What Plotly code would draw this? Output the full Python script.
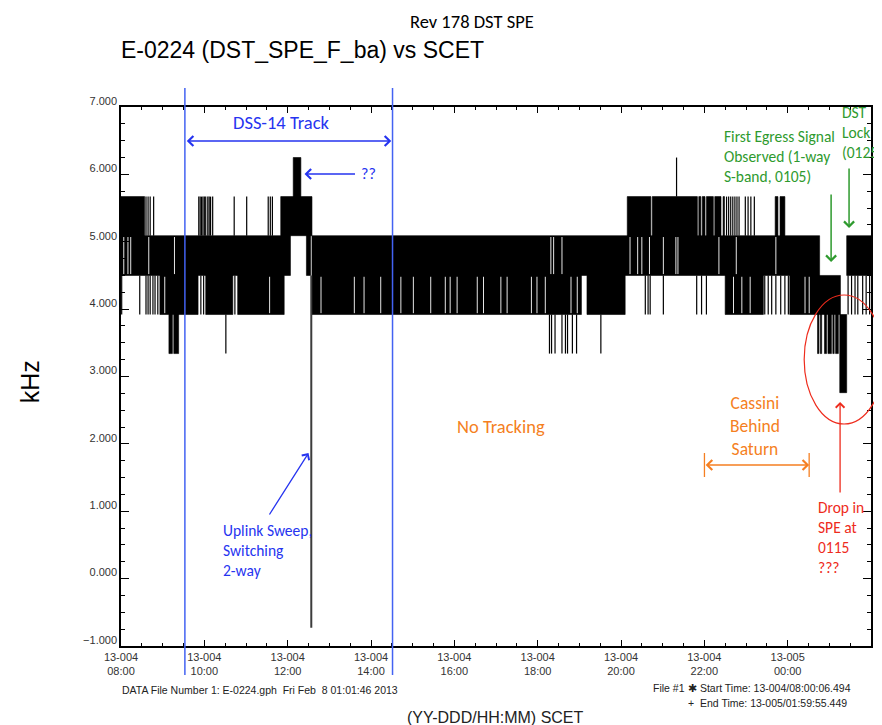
import plotly.graph_objects as go

# ---------------- data ----------------
# times as "DDD/HH:MM" (day-of-year 2013 / SCET)
block_start = ["004/08:00", "004/11:50", "004/12:08", "004/20:09", "004/20:45", "004/21:52", "004/21:57",
               "004/22:03", "004/22:15", "004/22:27", "004/23:42", "004/23:49",
               "004/08:00", "004/12:27", "004/12:35", "005/01:25",
               "004/08:56", "004/10:02", "004/10:48", "004/12:35", "004/19:11", "004/22:30", "005/00:03",
               "004/09:09", "004/09:16", "005/00:43", "005/00:47", "005/00:53", "005/00:58", "005/01:05",
               "005/01:09", "005/01:15"]
block_end = ["004/08:34", "004/12:35", "004/12:19", "004/20:43", "004/21:50", "004/21:55", "004/22:01",
             "004/22:13", "004/22:24", "004/22:29", "004/23:46", "004/23:56",
             "004/12:04", "004/12:33", "005/00:46", "005/02:00",
             "004/09:51", "004/10:41", "004/11:55", "004/19:03", "004/20:06", "004/23:25", "005/01:16",
             "004/09:14", "004/09:23", "005/00:45", "005/00:49", "005/00:56", "005/01:03", "005/01:07",
             "005/01:13", "005/01:25"]
block_low = [5.09, 5.09, 5.67, 5.09, 5.09, 5.09, 5.09, 5.09, 5.09, 5.09, 5.09, 5.09,
             4.50, 4.50, 4.50, 4.50,
             3.92, 3.92, 3.92, 3.92, 3.92, 3.92, 3.92,
             3.34, 3.34, 3.34, 3.34, 3.34, 3.34, 3.34, 3.34, 2.76]
block_high = [5.67, 5.67, 6.25, 5.67, 5.67, 5.67, 5.67, 5.67, 5.67, 5.67, 5.67, 5.67,
              5.09, 5.09, 5.09, 5.09,
              4.50, 4.50, 4.50, 4.50, 4.50, 4.50, 4.50,
              3.92, 3.92, 3.92, 3.92, 3.92, 3.92, 3.92, 3.92, 3.92]

spike_time = ["004/08:36", "004/08:39", "004/08:42", "004/08:47", "004/09:52", "004/09:54", "004/09:56",
              "004/09:58", "004/10:00", "004/10:02", "004/10:05", "004/10:07", "004/10:09", "004/10:12",
              "004/10:43", "004/11:01", "004/11:32", "004/11:35", "004/11:38", "004/22:32", "004/22:35",
              "004/22:38", "004/22:41", "004/22:44", "004/22:47", "004/22:50", "004/22:59", "004/23:03",
              "004/23:07", "004/23:12",
              "004/21:20",
              "004/08:01", "004/08:27", "004/08:36", "004/08:39", "004/08:42", "004/08:46", "004/08:49",
              "004/08:53", "004/09:55", "004/09:59", "004/10:44", "004/20:35", "004/20:39", "004/20:42",
              "004/21:01", "004/21:49", "004/21:56", "004/22:03", "004/23:27", "004/23:32", "004/23:37",
              "004/23:43", "004/23:50", "004/23:56", "005/00:01", "005/01:27", "005/01:32", "005/01:37",
              "005/01:41", "005/01:48", "005/01:53", "005/01:58",
              "004/10:31", "004/18:17", "004/18:20", "004/18:25", "004/18:35", "004/18:40", "004/18:43",
              "004/18:50", "004/18:56", "004/19:31"]
spike_low = [5.09] * 30 + [5.67] + [3.92] * 32 + [3.34] * 10
spike_high = [5.67] * 30 + [6.25] + [4.50] * 32 + [3.92] * 10

gap_time = ["004/08:04", "004/08:10", "004/08:14", "004/08:40", "004/09:17", "004/18:19", "004/18:23",
            "004/18:35", "004/20:13", "004/20:24", "004/20:30", "004/20:41", "004/21:01", "004/21:19",
            "004/21:22", "004/22:21", "004/22:46", "004/23:43",
            "004/09:03", "004/11:34", "004/12:48", "004/13:36", "004/13:50", "004/14:14", "004/14:43",
            "004/15:01", "004/15:26", "004/15:47", "004/15:54", "004/16:04", "004/16:33", "004/16:42",
            "004/17:07", "004/17:16", "004/17:51", "004/17:59", "004/18:11", "004/18:48", "004/18:57",
            "004/22:42", "004/22:54", "004/23:06", "005/00:25", "005/00:31"]
gap_low = [4.50] * 18 + [3.92] * 26
gap_high = [5.09] * 18 + [4.50] * 26

sweep_time = ["004/12:34"]
sweep_low = [-0.73]
sweep_high = [4.50]

track_edges = ["004/09:32", "004/14:31"]

# ---------------- helpers ----------------
# the page body adds an 8px margin, so the figure is 8px smaller and positions are
# given in page pixels (converted to paper fractions below)
OFF = 8
W, H = 882 - OFF, 725 - OFF
ML, MT = 121 - OFF, 107 - OFF
MR = W - (873 - OFF)
MB = H - (646 - OFF)
PW, PH = W - ML - MR, H - MT - MB


def px(x):
    return (x - OFF - ML) / PW


def py(y):
    return (MT + PH - (y - OFF)) / PH


def T(s):
    d, hm = s.split("/")
    h, m = hm.split(":")
    return f"2013-01-{int(d):02d} {int(h):02d}:{int(m):02d}"


bx, byy = [], []
for s, e, lo, hi in zip(block_start, block_end, block_low, block_high):
    bx += [T(s), T(e), T(e), T(s), T(s), None]
    byy += [lo, lo, hi, hi, lo, None]

sx, sy = [], []
for t, lo, hi in zip(spike_time, spike_low, spike_high):
    sx += [T(t), T(t), None]
    sy += [lo, hi, None]

gx, gy = [], []
for t, lo, hi in zip(gap_time, gap_low, gap_high):
    gx += [T(t), T(t), None]
    gy += [lo + 0.02, hi - 0.02, None]

wx, wy = [], []
for t, lo, hi in zip(sweep_time, sweep_low, sweep_high):
    wx += [T(t), T(t), None]
    wy += [lo, hi, None]

fig = go.Figure()
fig.add_trace(go.Scatter(x=bx, y=byy, mode="lines", fill="toself", fillcolor="black",
                         line=dict(color="black", width=0.6), hoverinfo="skip"))
fig.add_trace(go.Scatter(x=gx, y=gy, mode="lines", line=dict(color="white", width=0.9), hoverinfo="skip"))
fig.add_trace(go.Scatter(x=sx, y=sy, mode="lines", line=dict(color="black", width=1.2), hoverinfo="skip"))
fig.add_trace(go.Scatter(x=wx, y=wy, mode="lines", line=dict(color="#3c3c3c", width=2), hoverinfo="skip"))

TICKFONT = dict(family="Liberation Sans, Arial, sans-serif", size=11, color="#333333")
CAL = "Carlito, Lato, sans-serif"
BLUE = "#2634f0"
LBLUE = "#4362f2"
GREEN = "#2e9a2e"
ORANGE = "#f57f22"
RED = "#ee2b1c"

fig.update_layout(
    width=W, height=H,
    margin=dict(l=ML, r=MR, t=MT, b=MB),
    plot_bgcolor="white", paper_bgcolor="white",
    showlegend=False,
    xaxis=dict(type="date", range=[T("004/08:00"), T("005/02:00")],
               tick0=T("004/08:00"), dtick=7200000, tickformat="%y-%j<br>%H:%M",
               ticks="inside", ticklen=6, tickwidth=1, tickcolor="black",
               minor=dict(dtick=1800000, tick0=T("004/08:00"), ticks="inside", ticklen=3, tickcolor="black"),
               showline=True, linecolor="black", linewidth=1.5, mirror="allticks",
               showgrid=False, zeroline=False, tickfont=TICKFONT),
    yaxis=dict(range=[-1, 7], tick0=-1, dtick=1, tickformat=".3f",
               ticks="inside", ticklen=8, tickwidth=1, tickcolor="black",
               minor=dict(dtick=0.25, ticks="inside", ticklen=4, tickcolor="black"),
               showline=True, linecolor="black", linewidth=1.5, mirror="allticks",
               showgrid=False, zeroline=False, tickfont=TICKFONT, ticklabelshift=-6),
)

shapes = []
for t in track_edges:
    shapes.append(dict(type="line", xref="x", yref="paper", x0=T(t), x1=T(t), y0=py(675), y1=py(88),
                       line=dict(color=LBLUE, width=1.5)))
for xx in (706, 811):
    shapes.append(dict(type="line", xref="paper", yref="paper", x0=px(xx), x1=px(xx), y0=py(453), y1=py(477),
                       line=dict(color=ORANGE, width=1.3)))
shapes.append(dict(type="circle", xref="paper", yref="paper", x0=px(806), x1=px(886), y0=py(424), y1=py(295),
                   line=dict(color=RED, width=1.2)))
fig.update_layout(shapes=shapes)

ann = []


def text(t, x, y, size, color, family, xanchor="left", angle=0):
    ann.append(dict(text=t, x=px(x), y=py(y), xref="paper", yref="paper", showarrow=False,
                    xanchor=xanchor, yanchor="middle", textangle=angle,
                    align=xanchor if xanchor != "center" else "center",
                    font=dict(size=size, color=color, family=family)))


def arrow(hx, hy, tx, ty, color, both=False, width=1.5, size=1.3):
    ann.append(dict(text="", x=px(hx), y=py(hy), xref="paper", yref="paper", showarrow=True,
                    axref="pixel", ayref="pixel", ax=tx - hx, ay=ty - hy,
                    arrowhead=4, startarrowhead=4, arrowside="end+start" if both else "end",
                    arrowsize=size, startarrowsize=size, arrowwidth=width, arrowcolor=color))


ARIAL = "Liberation Sans, Arial, sans-serif"
text("Rev 178 DST SPE", 473, 21, 18.5, "black", CAL, "center")
text("E-0224 (DST_SPE_F_ba) vs SCET", 119, 50, 23, "black", ARIAL)
text("kHz", 30, 382, 25, "black", ARIAL, "center", -90)
text("DATA File Number 1: E-0224.gph\u00a0\u00a0Fri Feb\u00a0\u00a08 01:01:46 2013", 120, 690, 10.5, "#222222", ARIAL)
text("(YY-DDD/HH:MM) SCET", 496, 717, 16, "#222222", ARIAL, "center")
text("File #1", 652, 688, 10.5, "#222222", ARIAL)
text("\u2731 Start Time: 13-004/08:00:06.494", 688, 688, 10.5, "#222222", ARIAL)
text("+\u00a0\u00a0End Time: 13-005/01:59:55.449", 688, 703, 10.5, "#222222", ARIAL)

text("DSS-14 Track", 282, 123, 18.5, BLUE, CAL, "center")
text("??", 360, 174, 16, BLUE, CAL)
text("Uplink Sweep,<br>Switching<br>2-way", 221, 550, 15.5, BLUE, CAL)
text("No Tracking", 502, 426, 18.5, ORANGE, CAL, "center")
text("Cassini<br>Behind<br>Saturn", 757, 426, 17.5, ORANGE, CAL, "center")
text("First Egress Signal<br>Observed (1-way<br>S-band, 0105)", 724, 157, 15.5, GREEN, CAL)
text("DST<br>Lock<br>(0125)", 842, 133, 15.5, GREEN, CAL)
text("Drop in<br>SPE at<br>0115<br>???", 818, 537, 15.5, RED, CAL)

arrow(392, 141, 186, 141, BLUE, both=True)
arrow(305, 174, 357, 174, BLUE)
arrow(309, 453, 269, 516, BLUE, width=1.3)
arrow(833, 262, 833, 193, GREEN)
arrow(851, 228, 851, 167, GREEN)
arrow(842, 402, 842, 494, RED, width=1.3)
arrow(811, 465, 706, 465, ORANGE, both=True)

fig.update_layout(annotations=ann)
fig.write_html("out.html")
